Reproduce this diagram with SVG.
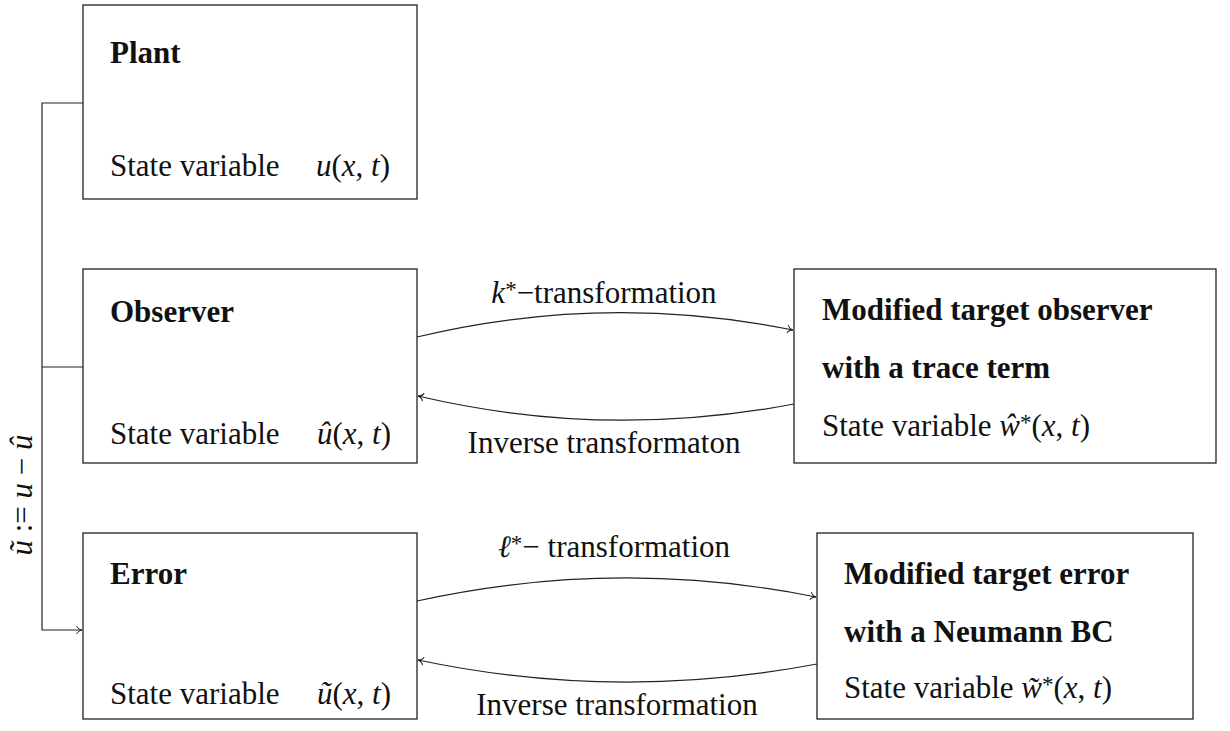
<svg xmlns="http://www.w3.org/2000/svg" width="1230" height="731" viewBox="0 0 1230 731">
<style>
.box{fill:#fff;stroke:#222;stroke-width:1.3}
.t{font-family:"Liberation Serif","Times New Roman",serif;font-size:31px;fill:#111}
.b{font-weight:bold}
.i{font-style:italic}
.s{font-size:23px}
.c{fill:none;stroke:#222;stroke-width:1.2}
</style>
<defs>
<marker id="to" viewBox="-7 -5 8 10" markerWidth="8" markerHeight="10" refX="0" refY="0" orient="auto" markerUnits="userSpaceOnUse">
<path d="M-5.5,-4 C-4.5,-1.5 -1.5,-0.3 0,0 C-1.5,0.3 -4.5,1.5 -5.5,4" fill="none" stroke="#222" stroke-width="1"/>
</marker>
</defs>
<g id="connectors">
<polyline class="c" points="83,103 42,103 42,630 82,630" marker-end="url(#to)"/>
<line class="c" x1="42" y1="367" x2="83" y2="367"/>
<path class="c" d="M417,337 Q605,292 793,330" marker-end="url(#to)"/>
<path class="c" d="M794,404 Q605,440 418,396" marker-end="url(#to)"/>
<path class="c" d="M417,601 Q617,557 816,597" marker-end="url(#to)"/>
<path class="c" d="M817,664 Q617,702 418,660" marker-end="url(#to)"/>
<text class="t" x="604" y="303" text-anchor="middle"><tspan class="i">k</tspan><tspan class="s" dy="-6">*</tspan><tspan dy="6">−transformation</tspan></text>
<text class="t" x="604" y="453" text-anchor="middle">Inverse transformaton</text>
<text class="t" x="614" y="557" text-anchor="middle"><tspan class="i">ℓ</tspan><tspan class="s" dy="-6">*</tspan><tspan dy="6">− transformation</tspan></text>
<text class="t" x="617" y="715" text-anchor="middle">Inverse transformation</text>
<text class="t i" transform="translate(32,495) rotate(-90)" text-anchor="middle">ũ <tspan font-style="normal">:= </tspan>u <tspan font-style="normal">− </tspan>û</text>
</g>
<g id="plant">
<rect class="box" x="83" y="5" width="334" height="194"/>
<text class="t b" x="110" y="63">Plant</text>
<text class="t" x="110" y="176">State variable</text>
<text class="t" x="316" y="176"><tspan class="i">u</tspan>(<tspan class="i">x</tspan>, <tspan class="i">t</tspan>)</text>
</g>
<g id="observer">
<rect class="box" x="83" y="269" width="334" height="194"/>
<text class="t b" x="110" y="322">Observer</text>
<text class="t" x="110" y="444">State variable</text>
<text class="t" x="317" y="444"><tspan class="i">û</tspan>(<tspan class="i">x</tspan>, <tspan class="i">t</tspan>)</text>
</g>
<g id="error">
<rect class="box" x="83" y="533" width="334" height="186"/>
<text class="t b" x="110" y="584">Error</text>
<text class="t" x="110" y="704">State variable</text>
<text class="t" x="317" y="704"><tspan class="i">ũ</tspan>(<tspan class="i">x</tspan>, <tspan class="i">t</tspan>)</text>
</g>
<g id="target-observer">
<rect class="box" x="794" y="269" width="422" height="194"/>
<text class="t b" x="822" y="320">Modified target observer</text>
<text class="t b" x="822" y="378">with a trace term</text>
<text class="t" x="822" y="436">State variable <tspan class="i">ŵ</tspan><tspan class="s" dy="-6">*</tspan><tspan dy="6">(</tspan><tspan class="i">x</tspan>, <tspan class="i">t</tspan>)</text>
</g>
<g id="target-error">
<rect class="box" x="817" y="533" width="376" height="186"/>
<text class="t b" x="844" y="584">Modified target error</text>
<text class="t b" x="844" y="642">with a Neumann BC</text>
<text class="t" x="844" y="698">State variable <tspan class="i">w̃</tspan><tspan class="s" dy="-6">*</tspan><tspan dy="6">(</tspan><tspan class="i">x</tspan>, <tspan class="i">t</tspan>)</text>
</g>
</svg>
